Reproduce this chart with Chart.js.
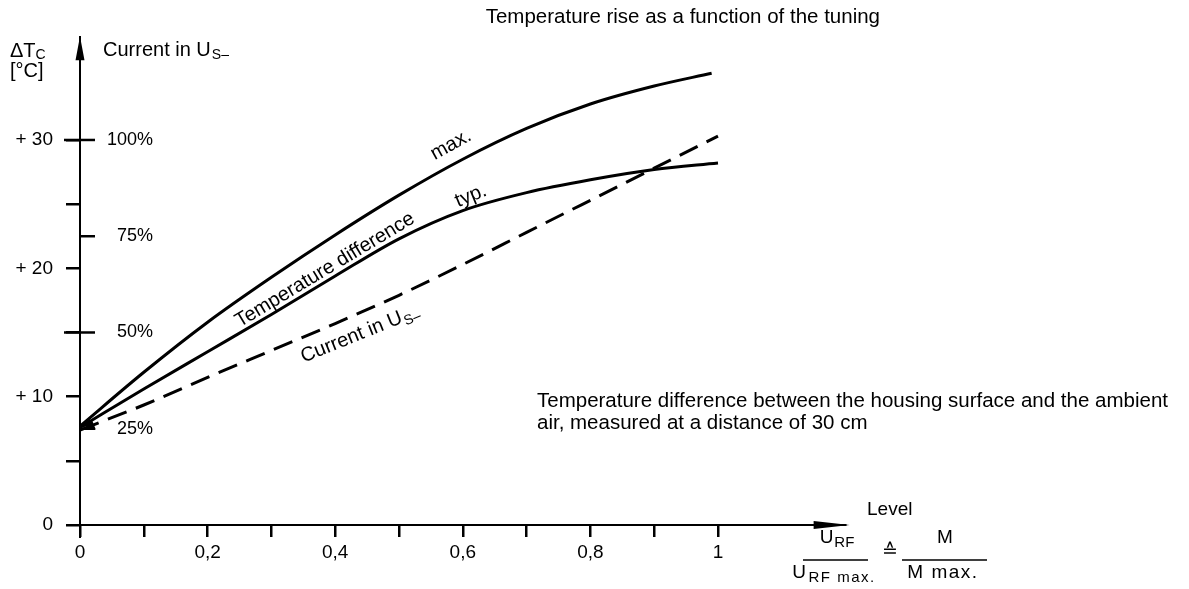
<!DOCTYPE html>
<html>
<head>
<meta charset="utf-8">
<script src="https://cdn.jsdelivr.net/npm/chart.js@4"></script>
<style>
  html, body { margin: 0; background: #fff; }
  #wrap { width: 1189px; height: 589px; }
</style>
</head>
<body>
<div id="wrap"><canvas id="rise-chart" width="1189" height="589"></canvas></div>
<script>
// values (level 0..1, temperature rise in degC)
const levels = [0, 0.1, 0.2, 0.3, 0.4, 0.5, 0.6, 0.7, 0.8, 0.9, 1];
const maxLevels = [0, 0.1, 0.2, 0.3, 0.4, 0.5, 0.6, 0.7, 0.8, 0.9, 0.99];
const maxRise = [7.7, 11.9, 15.8, 19.3, 22.6, 25.7, 28.5, 30.9, 32.8, 34.2, 35.2];
const typRise = [7.6, 10.6, 13.5, 16.4, 19.4, 22.3, 24.5, 25.9, 26.9, 27.7, 28.2];
const currentRise = [7.4, 9.35, 11.5, 13.6, 15.7, 17.9, 20.3, 22.8, 25.3, 27.8, 30.3];

const tempTicks = [0, 5, 10, 15, 20, 25, 30];
const tempLabels = ["0", "", "+ 10", "", "+ 20", "", "+ 30"];
// current scale shares the axis: 100% sits at +30
const currentTicks = [7.5, 15, 22.5, 30];
const currentLabels = ["25%", "50%", "75%", "100%"];
const levelTicks = [0, 0.1, 0.2, 0.3, 0.4, 0.5, 0.6, 0.7, 0.8, 0.9, 1];
const levelLabels = ["0", "", "0,2", "", "0,4", "", "0,6", "", "0,8", "", "1"];

const FONT = "'Liberation Sans', Arial, Helvetica, sans-serif";
Chart.defaults.font.family = FONT;
Chart.defaults.color = "#000";

function points(xs, ys) {
  return xs.map(function (x, i) {
    return { x: x, y: ys[i] };
  });
}

// text with a lowered, smaller suffix; drawn from (x, y) left aligned
function subText(ctx, main, sub, x, y, size, subSize) {
  ctx.font = size + "px " + FONT;
  ctx.fillText(main, x, y);
  const w = ctx.measureText(main).width;
  ctx.font = subSize + "px " + FONT;
  ctx.fillText(sub, x + w + 1, y + size * 0.28);
  return w + 1 + ctx.measureText(sub).width;
}

function subWidth(ctx, main, sub, size, subSize) {
  ctx.font = size + "px " + FONT;
  const w = ctx.measureText(main).width;
  ctx.font = subSize + "px " + FONT;
  return w + 1 + ctx.measureText(sub).width;
}

function rotated(ctx, x, y, deg, draw) {
  ctx.save();
  ctx.translate(x, y);
  ctx.rotate((deg * Math.PI) / 180);
  draw();
  ctx.restore();
}

function arrowHead(ctx, tipX, tipY, angle, len, half) {
  ctx.save();
  ctx.translate(tipX, tipY);
  ctx.rotate(angle);
  ctx.beginPath();
  ctx.moveTo(0, 0);
  ctx.lineTo(-len, -half);
  ctx.lineTo(-len, half);
  ctx.closePath();
  ctx.fill();
  ctx.restore();
}

const decorations = {
  id: "decorations",
  afterDraw: function (chart) {
    const ctx = chart.ctx;
    const xs = chart.scales.x;
    const ys = chart.scales.y;
    const x0 = xs.getPixelForValue(0);
    const y0 = ys.getPixelForValue(0);
    const yTop = ys.getPixelForValue(ys.max);
    const xEnd = xs.getPixelForValue(xs.max);

    ctx.save();
    ctx.strokeStyle = "#000";
    ctx.fillStyle = "#000";
    ctx.lineWidth = 2;

    // axes run a little past the origin
    ctx.beginPath();
    ctx.moveTo(x0, y0);
    ctx.lineTo(x0, y0 + 13);
    ctx.moveTo(x0, y0);
    ctx.lineTo(x0 - 13, y0);
    ctx.stroke();
    arrowHead(ctx, x0, yTop - 1, -Math.PI / 2, 24, 4.5);
    arrowHead(ctx, xEnd + 4, y0, 0, 36, 4);

    // current scale on the right of the axis
    ctx.lineWidth = 2.5;
    ctx.font = "18px " + FONT;
    ctx.textAlign = "right";
    ctx.textBaseline = "middle";
    currentTicks.forEach(function (v, i) {
      const py = ys.getPixelForValue(v);
      ctx.beginPath();
      ctx.moveTo(x0 - (i % 2 ? 16 : 0), py);
      ctx.lineTo(x0 + 15, py);
      ctx.stroke();
      ctx.fillText(currentLabels[i], 153, py);
    });

    // arrow tips where the curves meet the axis
    const c0x = xs.getPixelForValue(levels[0]);
    const c0y = ys.getPixelForValue(currentRise[0]);
    const c1x = xs.getPixelForValue(levels[1]);
    const c1y = ys.getPixelForValue(currentRise[1]);
    arrowHead(ctx, c0x + 2, c0y, Math.atan2(c0y - c1y, c0x - c1x), 13, 4.5);
    const t0y = ys.getPixelForValue(typRise[0]);
    const t1y = ys.getPixelForValue(typRise[1]);
    arrowHead(ctx, c0x + 2, t0y, Math.atan2(t0y - t1y, c0x - c1x), 11, 3.5);

    ctx.textAlign = "left";
    // axis captions top left
    ctx.font = "20px " + FONT;
    ctx.fillText("\u0394T", 10, 51);
    const dw = ctx.measureText("\u0394T").width;
    ctx.font = "14px " + FONT;
    ctx.fillText("C", 10 + dw, 55);
    ctx.font = "20px " + FONT;
    ctx.fillText("[\u00b0C]", 10, 71);
    subText(ctx, "Current in U", "S\u2013", 103, 50, 20, 14);

    // title and note
    ctx.font = "20.5px " + FONT;
    ctx.textAlign = "right";
    ctx.fillText("Temperature rise as a function of the tuning", 880, 17);
    ctx.textAlign = "left";
    ctx.font = "20.5px " + FONT;
    ctx.fillText("Temperature difference between the housing surface and the ambient", 537, 401);
    ctx.fillText("air, measured at a distance of 30 cm", 537, 423);

    // curve labels
    ctx.font = "20px " + FONT;
    ctx.textAlign = "center";
    rotated(ctx, 451, 145, -29, function () {
      ctx.fillText("max.", 0, 0);
    });
    rotated(ctx, 471, 196, -22, function () {
      ctx.fillText("typ.", 0, 0);
    });
    rotated(ctx, 325, 270, -31, function () {
      ctx.fillText("Temperature difference", 0, 0);
    });
    rotated(ctx, 360, 334, -22, function () {
      ctx.textAlign = "left";
      const w = subWidth(ctx, "Current in U", "S\u2013", 20, 14);
      subText(ctx, "Current in U", "S\u2013", -w / 2, 0, 20, 14);
    });

    // level caption and ratio
    ctx.textAlign = "left";
    ctx.font = "19px " + FONT;
    ctx.fillText("Level", 867, 510);
    let w = subWidth(ctx, "U", "RF", 19, 15);
    subText(ctx, "U", "RF", 837 - w / 2, 538, 19, 15);
    ctx.letterSpacing = "1.5px";
    w = subWidth(ctx, "U", "RF max.", 19, 15);
    subText(ctx, "U", "RF max.", 834 - w / 2, 573, 19, 15);
    ctx.font = "19px " + FONT;
    ctx.textAlign = "center";
    ctx.fillText("M max.", 943, 573);
    ctx.letterSpacing = "0px";
    ctx.fillText("M", 945, 538);
    ctx.fillText("\u2259", 890, 552);
    ctx.lineWidth = 1.5;
    ctx.beginPath();
    ctx.moveTo(803, 560);
    ctx.lineTo(868, 560);
    ctx.moveTo(902, 560);
    ctx.lineTo(987, 560);
    ctx.stroke();

    ctx.restore();
  },
};

new Chart(document.getElementById("rise-chart"), {
  type: "line",
  data: {
    datasets: [
      {
        label: "max.",
        data: points(maxLevels, maxRise),
        borderColor: "#000",
        borderWidth: 3,
        pointRadius: 0,
        cubicInterpolationMode: "monotone",
      },
      {
        label: "typ.",
        data: points(levels, typRise),
        borderColor: "#000",
        borderWidth: 3,
        pointRadius: 0,
        cubicInterpolationMode: "monotone",
      },
      {
        label: "Current in Us-",
        data: points(levels, currentRise),
        borderColor: "#000",
        borderWidth: 3,
        borderDash: [20, 10],
        pointRadius: 0,
        cubicInterpolationMode: "monotone",
      },
    ],
  },
  options: {
    responsive: false,
    animation: false,
    events: [],
    layout: {
      padding: { left: 0, right: 343.4, top: 37.3, bottom: 0 },
    },
    plugins: {
      legend: { display: false },
      tooltip: { enabled: false },
    },
    scales: {
      x: {
        type: "linear",
        min: 0,
        max: 1.2,
        afterFit: function (s) {
          s.height = 64;
        },
        afterBuildTicks: function (s) {
          s.ticks = levelTicks.map(function (v) {
            return { value: v };
          });
        },
        grid: {
          drawOnChartArea: false,
          color: "#000",
          lineWidth: 2.5,
          tickLength: 12,
        },
        border: { color: "#000", width: 2 },
        ticks: {
          autoSkip: false,
          maxRotation: 0,
          padding: 4,
          font: { size: 19 },
          callback: function (v, i) {
            return levelLabels[i];
          },
        },
      },
      y: {
        type: "linear",
        min: 0,
        max: 38,
        afterFit: function (s) {
          s.width = 80;
        },
        afterBuildTicks: function (s) {
          s.ticks = tempTicks.map(function (v) {
            return { value: v };
          });
        },
        grid: {
          drawOnChartArea: false,
          color: "#000",
          lineWidth: 2.5,
          tickLength: 14,
        },
        border: { color: "#000", width: 2 },
        ticks: {
          autoSkip: false,
          padding: 13,
          font: { size: 19 },
          callback: function (v, i) {
            return tempLabels[i];
          },
        },
      },
    },
  },
  plugins: [decorations],
});
</script>
</body>
</html>
